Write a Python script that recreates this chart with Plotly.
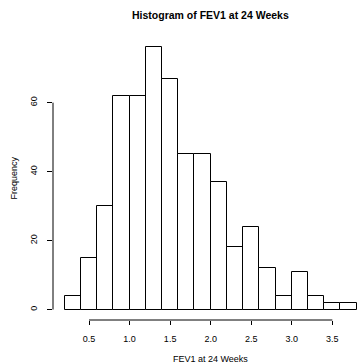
import plotly.graph_objects as go

# Histogram of FEV1 at 24 weeks: bin breaks and counts
breaks = [0.2, 0.4, 0.6, 0.8, 1.0, 1.2, 1.4, 1.6, 1.8, 2.0, 2.2, 2.4, 2.6,
          2.8, 3.0, 3.2, 3.4, 3.6, 3.8]
counts = [4, 15, 30, 62, 62, 76, 67, 45, 45, 37, 18, 24, 12, 4, 11, 4, 2, 2]
x_ticks = [0.5, 1.0, 1.5, 2.0, 2.5, 3.0, 3.5]
y_ticks = [0, 20, 40, 60]

W, H = 357, 364
FONT = "Liberation Sans, Arial, Helvetica, sans-serif"

# R-style axis limits: data range extended by 4% on each side
xspan = breaks[-1] - breaks[0]
xlim = [breaks[0] - 0.04 * xspan, breaks[-1] + 0.04 * xspan]
ylim = [-0.04 * max(counts), max(counts) * 1.04]

mid = [(a + b) / 2 for a, b in zip(breaks[:-1], breaks[1:])]
widths = [b - a for a, b in zip(breaks[:-1], breaks[1:])]

# plot region in pixels
left, top, bottom = 53, 37, 44
px_per_unit = (W - left) / 3.748
x_right = xlim[0] + (W - left) / px_per_unit  # region runs past the window edge
plot_h = H - top - bottom

fig = go.Figure(go.Bar(
    x=mid, y=counts, width=widths,
    marker=dict(color="white", line=dict(color="black", width=1)),
    hoverinfo="x+y",
))

fig.update_layout(
    width=W, height=H,
    margin=dict(l=left, r=0, t=top, b=bottom, pad=0),
    paper_bgcolor="white", plot_bgcolor="white",
    font=dict(family=FONT, size=9, color="black"),
    showlegend=False,
    bargap=0,
    xaxis=dict(range=[xlim[0], x_right], tickvals=x_ticks,
               ticktext=[f"{v:.1f}" for v in x_ticks],
               ticks="outside", ticklen=4, tickwidth=1, tickcolor="black",
               showline=False, showgrid=False, zeroline=False,
               ticklabelstandoff=6),
    yaxis=dict(range=ylim, tickvals=y_ticks, tickangle=-90,
               ticks="outside", ticklen=5, tickwidth=1, tickcolor="black",
               showline=False, showgrid=False, zeroline=False,
               ticklabelstandoff=6),
)

# R draws axis lines only between the outermost ticks
fig.add_shape(type="line", xref="x", yref="paper",
              x0=x_ticks[0], x1=x_ticks[-1], y0=0, y1=0,
              line=dict(color="black", width=1))
fig.add_shape(type="line", xref="paper", yref="y",
              x0=0, x1=0, y0=y_ticks[0], y1=y_ticks[-1],
              line=dict(color="black", width=1))

# titles centred on the full plot region
center_x = ((xlim[0] + xlim[1]) / 2 - xlim[0]) / (x_right - xlim[0])
fig.add_annotation(text="<b>Histogram of FEV1 at 24 Weeks</b>",
                   xref="paper", yref="paper", x=center_x,
                   y=1 + (top - 15) / plot_h, showarrow=False,
                   xanchor="center", yanchor="middle",
                   font=dict(size=10.5, color="black"))
fig.add_annotation(text="FEV1 at 24 Weeks",
                   xref="paper", yref="paper", x=center_x,
                   y=-(359 - (H - bottom)) / plot_h, showarrow=False,
                   xanchor="center", yanchor="middle",
                   font=dict(size=9, color="black"))
fig.add_annotation(text="Frequency", textangle=-90,
                   xref="paper", yref="paper",
                   x=(13 - left) / (W - left), y=0.5, showarrow=False,
                   xanchor="center", yanchor="middle",
                   font=dict(size=9, color="black"))

fig.write_html("out.html")
